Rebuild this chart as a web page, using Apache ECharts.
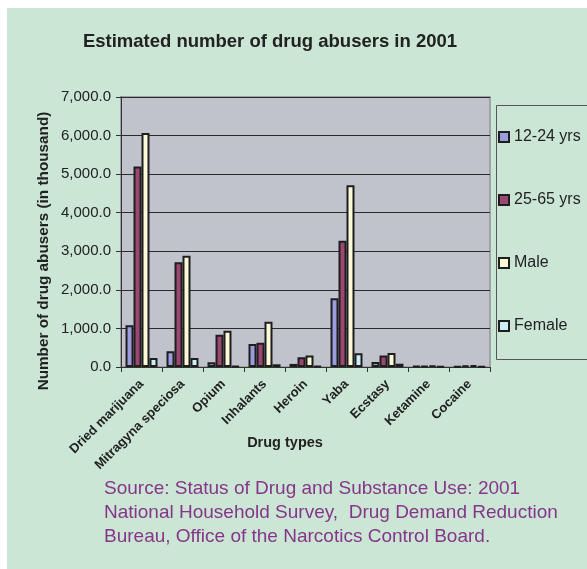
<!DOCTYPE html>
<html>
<head>
<meta charset="utf-8">
<script src="https://cdn.jsdelivr.net/npm/echarts@6/dist/echarts.min.js"></script>
<style>
  html, body { margin: 0; padding: 0; background: #fff; }
  #chart { position: absolute; left: 7px; top: 8px; width: 580px; height: 561px; }
</style>
</head>
<body>
<div id="chart"></div>
<script>
var drugTypes = ['Dried marijuana', 'Mitragyna speciosa', 'Opium', 'Inhalants', 'Heroin', 'Yaba', 'Ecstasy', 'Ketamine', 'Cocaine'];
var age12to24 = [1080, 406, 120, 596, 80, 1780, 130, 20, 15];
var age25to65 = [5200, 2713, 838, 631, 250, 3275, 300, 30, 40];
var male = [6065, 2886, 942, 1175, 300, 4710, 360, 40, 50];
var female = [233, 233, 20, 70, 20, 355, 85, 15, 15];
var seriesNames = ['12-24 yrs', '25-65 yrs', 'Male', 'Female'];
var seriesColors = ['#9a9cde', '#9c4672', '#fbf9d8', '#cdeef8'];
var sourceLines = [
  'Source: Status of Drug and Substance Use: 2001',
  'National Household Survey,  Drug Demand Reduction',
  'Bureau, Office of the Narcotics Control Board.'
];

var chart = echarts.init(document.getElementById('chart'));

function makeBar(name, data, color) {
  return {
    name: name,
    type: 'bar',
    data: data,
    barGap: '0%',
    barCategoryGap: '22%',
    itemStyle: { color: color, borderColor: '#1e1e1e', borderWidth: 2 }
  };
}

var option = {
  backgroundColor: '#cbe6d5',
  animation: false,
  title: {
    text: 'Estimated number of drug abusers in 2001',
    left: 258,
    top: 19,
    textAlign: 'center',
    textStyle: { fontFamily: 'Liberation Sans', fontSize: 18.5, fontWeight: 'bold', color: '#222' }
  },
  grid: {
    left: 114,
    right: 97,
    top: 89,
    bottom: 202,
    show: true,
    backgroundColor: '#c0c3cb',
    borderColor: '#9ea2aa',
    borderWidth: 2
  },
  legend: {
    orient: 'vertical',
    left: 491,
    top: 121,
    itemGap: 47,
    itemWidth: 10,
    itemHeight: 10,
    icon: 'rect',
    padding: 0,
    data: seriesNames,
    itemStyle: { borderColor: '#1e1e1e', borderWidth: 2 },
    textStyle: { fontFamily: 'Liberation Sans', fontSize: 16, color: '#222' }
  },
  xAxis: {
    type: 'category',
    data: drugTypes,
    axisLine: { lineStyle: { color: '#333', width: 1 } },
    axisTick: { show: true, length: 5, lineStyle: { color: '#333' } },
    axisLabel: {
      rotate: 45,
      interval: 0,
      margin: 15,
      fontFamily: 'Liberation Sans',
      fontSize: 13,
      fontWeight: 'bold',
      color: '#222'
    },
    splitLine: { show: false }
  },
  yAxis: {
    type: 'value',
    min: 0,
    max: 7000,
    interval: 1000,
    axisLine: { show: true, lineStyle: { color: '#333', width: 1 } },
    axisTick: { show: true, length: 5, lineStyle: { color: '#333' } },
    axisLabel: {
      margin: 10,
      fontFamily: 'Liberation Sans',
      fontSize: 15,
      color: '#222',
      formatter: function (v) {
        return v.toLocaleString('en-US', { minimumFractionDigits: 1, maximumFractionDigits: 1 });
      }
    },
    splitLine: { show: true, lineStyle: { color: '#2a2a2a', width: 1 } }
  },
  graphic: [
    {
      type: 'rect',
      left: 487,
      top: 95,
      shape: { width: 120, height: 254 },
      style: { fill: 'none', stroke: '#555', lineWidth: 1 },
      silent: true
    },
    {
      type: 'text',
      x: 37,
      y: 243,
      rotation: Math.PI / 2,
      style: {
        text: 'Number of drug abusers (in thousand)',
        font: 'bold 15.3px "Liberation Sans"',
        fill: '#222',
        align: 'center',
        verticalAlign: 'middle'
      }
    },
    {
      type: 'text',
      x: 278,
      y: 435,
      style: {
        text: 'Drug types',
        font: 'bold 14.5px "Liberation Sans"',
        fill: '#222',
        align: 'center',
        verticalAlign: 'middle'
      }
    },
    {
      type: 'text',
      left: 97,
      top: 469,
      style: {
        text: sourceLines.join('\n'),
        font: '19px "Liberation Sans"',
        fill: '#86368a',
        lineHeight: 24
      }
    }
  ],
  series: [
    makeBar(seriesNames[0], age12to24, seriesColors[0]),
    makeBar(seriesNames[1], age25to65, seriesColors[1]),
    makeBar(seriesNames[2], male, seriesColors[2]),
    makeBar(seriesNames[3], female, seriesColors[3])
  ]
};

chart.setOption(option);
</script>
</body>
</html>
